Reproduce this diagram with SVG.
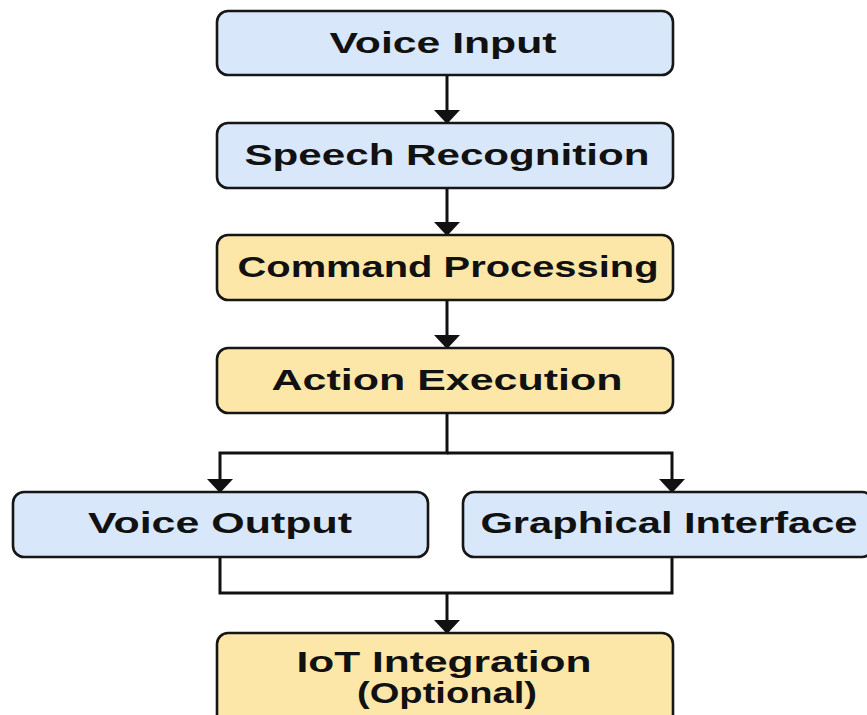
<svg xmlns="http://www.w3.org/2000/svg" width="867" height="715" viewBox="0 0 867 715">
  <style>
    .box { stroke: #161616; stroke-width: 2.6; }
    .blue { fill: #d9e7fa; }
    .yellow { fill: #fce7a8; }
    .label { font-family: "Liberation Sans", Arial, sans-serif; font-weight: bold; font-size: 29px; fill: #111; text-anchor: middle; }
    .wire { fill: none; stroke: #111; stroke-width: 3; }
  </style>
  <defs>
    <marker id="head" markerWidth="14" markerHeight="26" refX="13" refY="13" orient="auto" markerUnits="userSpaceOnUse" viewBox="0 0 14 26">
      <path d="M0,0 L14,13 L0,26 Z" fill="#111"/>
    </marker>
  </defs>

  <g id="connectors">
    <path class="wire" d="M447,75 V123" marker-end="url(#head)"/>
    <path class="wire" d="M447,188 V235" marker-end="url(#head)"/>
    <path class="wire" d="M447,300 V348" marker-end="url(#head)"/>
    <path class="wire" d="M447,413 V453 H220 V492" marker-end="url(#head)"/>
    <path class="wire" d="M447,453 H672 V492" marker-end="url(#head)"/>
    <path class="wire" d="M220,557 V593 H672 V557"/>
    <path class="wire" d="M447,593 V633" marker-end="url(#head)"/>
  </g>

  <g id="voice-input">
    <rect class="box blue" x="217" y="11" width="456" height="64" rx="11"/>
    <text class="label" x="443" y="53" textLength="227" lengthAdjust="spacingAndGlyphs">Voice Input</text>
  </g>
  <g id="speech-recognition">
    <rect class="box blue" x="217" y="123" width="456" height="65" rx="11"/>
    <text class="label" x="447" y="165" textLength="405" lengthAdjust="spacingAndGlyphs">Speech Recognition</text>
  </g>
  <g id="command-processing">
    <rect class="box yellow" x="217" y="235" width="456" height="65" rx="11"/>
    <text class="label" x="448" y="277" textLength="421" lengthAdjust="spacingAndGlyphs">Command Processing</text>
  </g>
  <g id="action-execution">
    <rect class="box yellow" x="217" y="348" width="456" height="65" rx="11"/>
    <text class="label" x="447" y="390" textLength="351" lengthAdjust="spacingAndGlyphs">Action Execution</text>
  </g>
  <g id="voice-output">
    <rect class="box blue" x="13" y="492" width="415" height="65" rx="11"/>
    <text class="label" x="220" y="533" textLength="264" lengthAdjust="spacingAndGlyphs">Voice Output</text>
  </g>
  <g id="graphical-interface">
    <rect class="box blue" x="463" y="492" width="410" height="65" rx="11"/>
    <text class="label" x="669" y="533" textLength="377" lengthAdjust="spacingAndGlyphs">Graphical Interface</text>
  </g>
  <g id="iot-integration">
    <rect class="box yellow" x="217" y="633" width="456" height="110" rx="11"/>
    <text class="label" x="444" y="672" textLength="295" lengthAdjust="spacingAndGlyphs">IoT Integration</text>
    <text class="label" x="447" y="703" textLength="180" lengthAdjust="spacingAndGlyphs">(Optional)</text>
  </g>
</svg>
